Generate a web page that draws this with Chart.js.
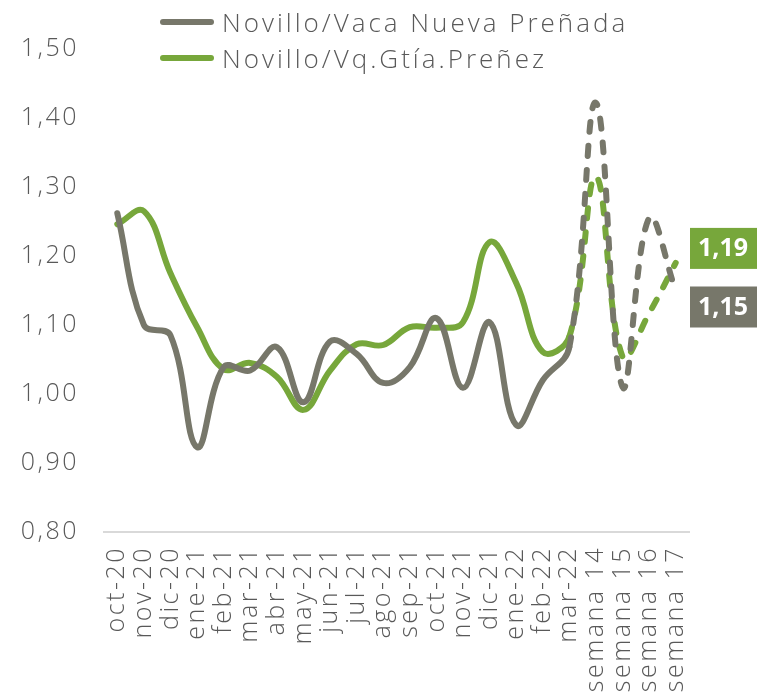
<!DOCTYPE html>
<html>
<head>
<meta charset="utf-8">
<script src="https://cdn.jsdelivr.net/npm/chart.js@4"></script>
<style>
  html, body { margin: 0; padding: 0; background: #fff; overflow: hidden; }
  #wrap { position: relative; width: 762px; height: 705px; }
  #legend { position: absolute; left: 160px; top: 4px; font-family: "Open Sans", sans-serif; font-weight: 300; font-size: 26px; color: #595959; letter-spacing: 3px; }
  #legend .row { display: flex; align-items: center; height: 36px; }
  #legend .swatch { width: 54px; height: 6px; border-radius: 3px; margin-right: 8px; }
</style>
</head>
<body>
<div id="wrap">
  <canvas id="chart"></canvas>
  <div id="legend"></div>
</div>
<script>
// Categories (months, then weeks)
const labels = ["oct-20", "nov-20", "dic-20", "ene-21", "feb-21", "mar-21", "abr-21", "may-21",
  "jun-21", "jul-21", "ago-21", "sep-21", "oct-21", "nov-21", "dic-21", "ene-22", "feb-22",
  "mar-22", "semana 14", "semana 15", "semana 16", "semana 17"];

// Series values
const vacaNueva = [1.262, 1.100, 1.085, 0.923, 1.039, 1.034, 1.068, 0.988, 1.076, 1.058, 1.016,
  1.039, 1.110, 1.009, 1.104, 0.955, 1.020, 1.068, 1.422, 1.010, 1.255, 1.15];
const vqGtia = [1.246, 1.265, 1.175, 1.097, 1.036, 1.045, 1.025, 0.977, 1.034, 1.072, 1.071,
  1.097, 1.096, 1.104, 1.220, 1.161, 1.061, 1.083, 1.315, 1.054, 1.117, 1.19];

const seriesNames = ["Novillo/Vaca Nueva Preñada", "Novillo/Vq.Gtía.Preñez"];
const seriesColors = ["#77776a", "#77a73b"];

// y axis ticks
const yMin = 0.8, yMax = 1.5, yStep = 0.1;

// weeks are drawn dashed from this index on
const dashFrom = 17;

const fmt = v => v.toFixed(2).replace(".", ",");

function makeDataset(name, values, color) {
  return {
    label: name,
    data: values,
    borderColor: color,
    backgroundColor: color,
    borderWidth: 6,
    borderCapStyle: "round",
    borderJoinStyle: "round",
    pointRadius: 0,
    tension: 0.4,
    fill: false,
    segment: {
      borderDash: ctx => ctx.p0DataIndex >= dashFrom ? [10, 14] : undefined
    }
  };
}

// Boxes with the last value on the right side
const lastValueBoxes = {
  id: "lastValueBoxes",
  afterDatasetsDraw(chart) {
    const ctx = chart.ctx;
    const offsets = [16, -15];
    chart.data.datasets.forEach((ds, i) => {
      const meta = chart.getDatasetMeta(i);
      const pt = meta.data[meta.data.length - 1];
      const cy = pt.y + offsets[i];
      const x = chart.chartArea.right + 1;
      ctx.save();
      ctx.letterSpacing = "0px";
      ctx.fillStyle = ds.borderColor;
      ctx.fillRect(x, cy - 20, 67, 41);
      ctx.fillStyle = "#fff";
      ctx.font = "bold 25px 'Open Sans', sans-serif";
      ctx.textAlign = "center";
      ctx.textBaseline = "middle";
      ctx.fillText(fmt(ds.data[ds.data.length - 1]), x + 33, cy + 1);
      ctx.restore();
    });
  }
};

const spacing = {
  id: "spacing",
  beforeLayout(chart) { chart.ctx.letterSpacing = "2.5px"; },
  beforeDraw(chart) { chart.ctx.letterSpacing = "2.5px"; }
};

const tickFont = { family: "'Open Sans', sans-serif", size: 25, weight: 300 };

const chart = new Chart(document.getElementById("chart"), {
  type: "line",
  data: {
    labels: labels,
    datasets: [
      makeDataset(seriesNames[0], vacaNueva, seriesColors[0]),
      makeDataset(seriesNames[1], vqGtia, seriesColors[1])
    ]
  },
  options: {
    responsive: true,
    maintainAspectRatio: false,
    animation: false,
    layout: { padding: { top: 49, right: 73, left: 0, bottom: 0 } },
    plugins: {
      legend: { display: false },
      tooltip: { enabled: false }
    },
    scales: {
      x: {
        offset: true,
        grid: { display: false, drawTicks: false },
        border: { display: true, color: "#d9d9d9", width: 2 },
        ticks: {
          color: "#595959",
          font: tickFont,
          minRotation: 90,
          maxRotation: 90,
          autoSkip: false,
          padding: 14
        },
        afterFit(s) { s.height = 705 - 532; }
      },
      y: {
        min: yMin,
        max: yMax,
        grid: { display: false, drawTicks: false },
        border: { display: false },
        ticks: {
          stepSize: yStep,
          color: "#595959",
          font: tickFont,
          padding: 25,
          callback: v => fmt(v)
        },
        afterFit(s) { s.width = 104; }
      }
    }
  },
  plugins: [lastValueBoxes, spacing]
});

// Legend stacked in two rows above the plot
const legendEl = document.getElementById("legend");
seriesNames.forEach((name, i) => {
  const row = document.createElement("div");
  row.className = "row";
  const sw = document.createElement("span");
  sw.className = "swatch";
  sw.style.background = seriesColors[i];
  row.appendChild(sw);
  row.appendChild(document.createTextNode(name));
  legendEl.appendChild(row);
});
</script>
</body>
</html>
